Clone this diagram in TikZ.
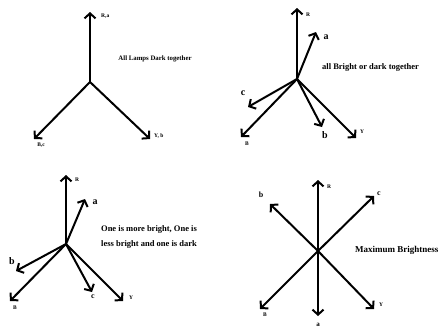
\documentclass[tikz,border=0pt]{standalone}
\usepackage{fontspec}
\setmainfont{Liberation Serif}
\usetikzlibrary{arrows.meta}
\begin{document}
\begin{tikzpicture}[x=1pt,y=-1pt,
  vec/.style={line width=2pt,-{Straight Barb[length=5pt,width=11pt]}},
  sm/.style={font=\bfseries\fontsize{5.5}{6}\selectfont,inner sep=0pt},
  lab/.style={font=\bfseries\fontsize{10}{11}\selectfont,inner sep=0pt},
  captxt/.style={font=\bfseries\fontsize{6.8}{8}\selectfont,inner sep=0pt},
  captxtb/.style={font=\bfseries\fontsize{8.5}{15}\selectfont,inner sep=0pt,align=center}]
\clip (0,0) rectangle (444,327);
\fill[white] (0,0) rectangle (444,327);
% Panel 1
\coordinate (o1) at (90,82);
\coordinate (r1) at (90,12);
\coordinate (b1) at (34,139);
\coordinate (y1) at (150,139);
\draw[vec] (o1) -- (r1);
\draw[vec] (o1) -- (b1);
\draw[vec] (o1) -- (y1);
\node[sm,anchor=west] (lr1) at (101,16) {R,a};
\node[sm] (lb1) at (41,145) {B,c};
\node[sm,anchor=west] (ly1) at (154,136) {Y, b};
\node[captxt] (t1) at (155,59) {All Lamps Dark together};
% Panel 2
\coordinate (o2) at (297,79);
\coordinate (r2) at (297,8);
\coordinate (a2) at (316,32);
\coordinate (c2) at (248,107);
\coordinate (b2) at (241,137);
\coordinate (bb2) at (322,127);
\coordinate (y2) at (356,138);
\draw[vec] (o2) -- (r2);
\draw[vec] (o2) -- (a2);
\draw[vec] (o2) -- (c2);
\draw[vec] (o2) -- (b2);
\draw[vec] (o2) -- (bb2);
\draw[vec] (o2) -- (y2);
\node[sm] (lr2) at (308,15) {R};
\node[lab] (la2) at (326,37) {a};
\node[lab] (lc2) at (243,93) {c};
\node[sm] (lb2) at (247,144) {B};
\node[lab] (lbb2) at (325,135) {b};
\node[sm] (ly2) at (362,132) {Y};
\node[captxtb,anchor=west] (t2) at (322,67) {all Bright or dark together};
% Panel 3
\coordinate (o3) at (66,244);
\coordinate (r3) at (66,175);
\coordinate (a3) at (85,199);
\coordinate (b3) at (16,271);
\coordinate (bb3) at (10,301);
\coordinate (c3) at (92,292);
\coordinate (y3) at (123,301);
\draw[vec] (o3) -- (r3);
\draw[vec] (o3) -- (a3);
\draw[vec] (o3) -- (b3);
\draw[vec] (o3) -- (bb3);
\draw[vec] (o3) -- (c3);
\draw[vec] (o3) -- (y3);
\node[sm] (lr3) at (77,180) {R};
\node[lab] (la3) at (95,202) {a};
\node[lab] (lb3) at (12,261) {b};
\node[sm] (lbb3) at (15,308) {B};
\node[lab] (lc3) at (93,297) {\fontsize{8}{9}\selectfont c};
\node[sm] (ly3) at (131,298) {Y};
\node[captxtb] (t3) at (149,237) {One is more bright, One is\\less bright and one is dark};
% Panel 4
\coordinate (o4) at (318,251);
\coordinate (r4) at (318,180);
\coordinate (b4) at (270,204);
\coordinate (c4) at (374,196);
\coordinate (bb4) at (260,309);
\coordinate (a4) at (318,316);
\coordinate (y4) at (374,309);
\draw[vec] (o4) -- (r4);
\draw[vec] (o4) -- (b4);
\draw[vec] (o4) -- (c4);
\draw[vec] (o4) -- (bb4);
\draw[vec] (o4) -- (a4);
\draw[vec] (o4) -- (y4);
\node[sm] (lr4) at (329,187) {R};
\node[lab] (lb4) at (261,195) {\fontsize{8}{9}\selectfont b};
\node[lab] (lc4) at (379,194) {\fontsize{8}{9}\selectfont c};
\node[sm] (lbb4) at (265,315) {B};
\node[lab,anchor=south] (la4) at (318,326.5) {\fontsize{7}{8}\selectfont a};
\node[sm] (ly4) at (381,305) {Y};
\node[captxtb,anchor=west,font=\bfseries\fontsize{9}{10}\selectfont] (t4) at (355,250) {Maximum Brightness};
\end{tikzpicture}
\end{document}
